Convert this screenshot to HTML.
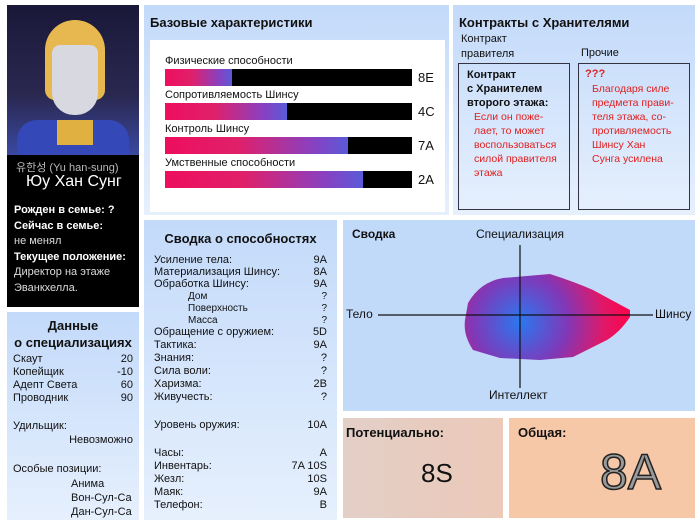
<!DOCTYPE html>
<html><head><meta charset="utf-8"><style>
*{margin:0;padding:0;box-sizing:border-box}
body{width:700px;height:525px;background:#fff;font-family:"Liberation Sans","Noto Sans CJK KR",sans-serif;position:relative;overflow:hidden;color:#111}
.p{position:absolute;background:linear-gradient(180deg,#c3dafa,#e6f0fd);}
.a{position:absolute;white-space:nowrap}
.row{position:absolute;left:10px;right:10px;font-size:11px;display:flex;justify-content:space-between;line-height:13px}
.bar{position:absolute;left:165px;width:247px;height:17px;background:#000}
.bar div{height:100%;background:linear-gradient(90deg,#ee0e5e,#e0206a 40%,#8a40c0 80%,#5a5ad8)}
</style></head><body>
<div style="position:absolute;left:7px;top:5px;width:132px;height:302px;background:#000"></div>
<div style="position:absolute;left:7px;top:5px;width:132px;height:150px;background:linear-gradient(180deg,#1a1838,#2a2850 60%,#3a48a0)">
 <div style="position:absolute;left:38px;top:15px;width:60px;height:80px;background:#e8b850;border-radius:30px 30px 10px 10px"></div>
 <div style="position:absolute;left:45px;top:40px;width:46px;height:70px;background:#d8d8e0;border-radius:8px 8px 22px 22px"></div>
 <div style="position:absolute;left:10px;top:115px;width:112px;height:35px;background:#3448b8;border-radius:20px 20px 0 0"></div>
 <div style="position:absolute;left:50px;top:115px;width:36px;height:25px;background:#e0b040"></div>
</div>
<div class="a" style="left:16px;top:159px;font-size:11px;color:#bbb">유한성 (Yu han-sung)</div>
<div class="a" style="left:26px;top:173px;font-size:16px;color:#fff">Юу Хан Сунг</div>
<div class="a" style="left:14px;top:203px;font-size:11px;color:#fff;font-weight:bold;line-height:15.5px">Рожден в семье: ?<br>Сейчас в семье:<br><span style="font-weight:normal;color:#ddd">не менял</span><br>Текущее положение:<br><span style="font-weight:normal;color:#ddd">Директор на этаже<br>Эванкхелла.</span></div>
<div class="p" style="left:7px;top:312px;width:132px;height:208px">
 <div class="a" style="left:0;width:132px;text-align:center;top:5px;font-size:13px;font-weight:bold;line-height:17px">Данные<br>о специализациях</div>
 <div class="row" style="top:41px;left:6px;right:6px"><span>Скаут</span><span>20</span></div>
 <div class="row" style="top:54px;left:6px;right:6px"><span>Копейщик</span><span>-10</span></div>
 <div class="row" style="top:67px;left:6px;right:6px"><span>Адепт Света</span><span>60</span></div>
 <div class="row" style="top:80px;left:6px;right:6px"><span>Проводник</span><span>90</span></div>
 <div class="a" style="left:6px;top:108px;font-size:11px">Удильщик:</div>
 <div class="a" style="right:6px;top:122px;font-size:11px">Невозможно</div>
 <div class="a" style="left:6px;top:151px;font-size:11px">Особые позиции:</div>
 <div class="a" style="left:64px;top:165px;font-size:11px;line-height:14px">Анима<br>Вон-Сул-Са<br>Дан-Сул-Са</div>
</div>
<div class="p" style="left:144px;top:5px;width:305px;height:210px"></div>
<div class="a" style="left:150px;top:15px;font-size:13px;font-weight:bold">Базовые характеристики</div>
<div style="position:absolute;left:150px;top:40px;width:295px;height:172px;background:#fff"></div>
<div class="a" style="left:165px;top:55px;font-size:11px">Физические способности</div>
<div class="bar" style="top:69px"><div style="width:67px"></div></div>
<div class="a" style="left:418px;top:70px;font-size:13px">8E</div>
<div class="a" style="left:165px;top:89px;font-size:11px">Сопротивляемость Шинсу</div>
<div class="bar" style="top:103px"><div style="width:122px"></div></div>
<div class="a" style="left:418px;top:104px;font-size:13px">4C</div>
<div class="a" style="left:165px;top:123px;font-size:11px">Контроль Шинсу</div>
<div class="bar" style="top:137px"><div style="width:183px"></div></div>
<div class="a" style="left:418px;top:138px;font-size:13px">7A</div>
<div class="a" style="left:165px;top:157px;font-size:11px">Умственные способности</div>
<div class="bar" style="top:171px"><div style="width:198px"></div></div>
<div class="a" style="left:418px;top:172px;font-size:13px">2A</div>
<div class="p" style="left:453px;top:5px;width:242px;height:210px"></div>
<div class="a" style="left:459px;top:15px;font-size:13px;font-weight:bold">Контракты с Хранителями</div>
<div class="a" style="left:461px;top:32px;font-size:11px;line-height:15px">Контракт<br>правителя</div>
<div class="a" style="left:581px;top:47px;font-size:11px">Прочие</div>
<div style="position:absolute;left:458px;top:63px;width:112px;height:147px;border:1px solid #334"></div>
<div style="position:absolute;left:578px;top:63px;width:112px;height:147px;border:1px solid #334"></div>
<div class="a" style="left:467px;top:68px;font-size:11px;font-weight:bold;line-height:14px">Контракт<br>с Хранителем<br>второго этажа:</div>
<div class="a" style="left:474px;top:110px;font-size:10.5px;color:#e02020;line-height:14px">Если он поже-<br>лает, то может<br>воспользоваться<br>силой правителя<br>этажа</div>
<div class="a" style="left:585px;top:68px;font-size:11px;color:#e02020;font-weight:bold">???</div>
<div class="a" style="left:592px;top:82px;font-size:10.5px;color:#e02020;line-height:14px">Благодаря силе<br>предмета прави-<br>теля этажа, со-<br>противляемость<br>Шинсу  Хан<br>Сунга усилена</div>
<div class="p" style="left:144px;top:220px;width:193px;height:300px">
 <div class="a" style="left:0;width:193px;text-align:center;top:11px;font-size:13px;font-weight:bold">Сводка о способностях</div>
 <div class="row" style="top:34px"><span>Усиление тела:</span><span>9A</span></div>
 <div class="row" style="top:46px"><span>Материализация Шинсу:</span><span>8A</span></div>
 <div class="row" style="top:58px"><span>Обработка Шинсу:</span><span>9A</span></div>
 <div class="row" style="top:70px;left:44px;font-size:10px"><span>Дом</span><span>?</span></div>
 <div class="row" style="top:82px;left:44px;font-size:10px"><span>Поверхность</span><span>?</span></div>
 <div class="row" style="top:94px;left:44px;font-size:10px"><span>Масса</span><span>?</span></div>
 <div class="row" style="top:106px"><span>Обращение с оружием:</span><span>5D</span></div>
 <div class="row" style="top:119px"><span>Тактика:</span><span>9A</span></div>
 <div class="row" style="top:132px"><span>Знания:</span><span>?</span></div>
 <div class="row" style="top:145px"><span>Сила воли:</span><span>?</span></div>
 <div class="row" style="top:158px"><span>Харизма:</span><span>2B</span></div>
 <div class="row" style="top:171px"><span>Живучесть:</span><span>?</span></div>
 <div class="row" style="top:199px"><span>Уровень оружия:</span><span>10A</span></div>
 <div class="row" style="top:227px"><span>Часы:</span><span>A</span></div>
 <div class="row" style="top:240px"><span>Инвентарь:</span><span>7A 10S</span></div>
 <div class="row" style="top:253px"><span>Жезл:</span><span>10S</span></div>
 <div class="row" style="top:266px"><span>Маяк:</span><span>9A</span></div>
 <div class="row" style="top:279px"><span>Телефон:</span><span>B</span></div>
</div>
<div style="position:absolute;left:343px;top:220px;width:352px;height:191px;background:#c2dafa"></div>
<svg style="position:absolute;left:0;top:0" width="700" height="525">
<defs><radialGradient id="g" gradientUnits="userSpaceOnUse" cx="520" cy="322" r="105"><stop offset="0" stop-color="#2a78f0"/><stop offset="0.45" stop-color="#8038b8"/><stop offset="0.8" stop-color="#e01868"/><stop offset="1" stop-color="#f80850"/></radialGradient></defs>
<path d="M468,303 Q480,282 503,278 L550,274 Q575,282 593,290 L630,310 L630,317 Q620,332 607,340 L573,357 L540,360 L500,358 L473,350 Q463,335 465,320 Z" fill="url(#g)"/>
<line x1="378" y1="315" x2="653" y2="315" stroke="#111" stroke-width="1.2"/>
<line x1="520" y1="245" x2="520" y2="388" stroke="#111" stroke-width="1.2"/>
</svg>
<div class="a" style="left:352px;top:227px;font-size:12px;font-weight:bold">Сводка</div>
<div class="a" style="left:476px;top:227px;font-size:12px">Специализация</div>
<div class="a" style="left:346px;top:307px;font-size:12px">Тело</div>
<div class="a" style="left:655px;top:307px;font-size:12px">Шинсу</div>
<div class="a" style="left:489px;top:388px;font-size:12px">Интеллект</div>
<div style="position:absolute;left:343px;top:418px;width:160px;height:100px;background:linear-gradient(90deg,#e3cfc8,#ecc9b8)"></div>
<div class="a" style="left:346px;top:425px;font-size:13px;font-weight:bold">Потенциально:</div>
<div class="a" style="left:421px;top:458px;font-size:26px">8S</div>
<div style="position:absolute;left:509px;top:418px;width:186px;height:100px;background:#f6c8a8"></div>
<div class="a" style="left:518px;top:425px;font-size:13px;font-weight:bold">Общая:</div>
<div class="a" style="left:600px;top:443px;font-size:50px;color:#999;-webkit-text-stroke:1.5px #222">8A</div>
</body></html>
